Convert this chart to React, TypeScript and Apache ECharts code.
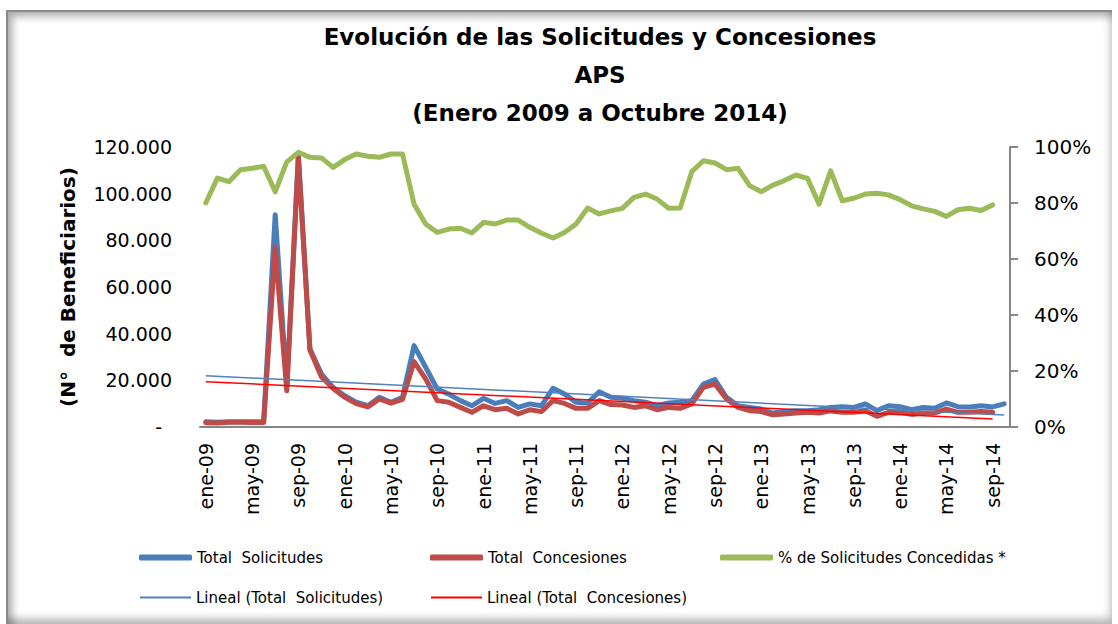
import React, { useEffect, useRef } from "react";
import * as echarts from "echarts";

const monthAbbr = ["ene", "feb", "mar", "abr", "may", "jun", "jul", "ago", "sep", "oct", "nov", "dic"];
const yearSuffixes = ["09", "10", "11", "12", "13", "14"];
const monthsInLastYear = 10; // ene..oct 2014

const categories: string[] = [];
yearSuffixes.forEach((y, yi) => {
  const n = yi === yearSuffixes.length - 1 ? monthsInLastYear : 12;
  for (let m = 0; m < n; m++) categories.push(`${monthAbbr[m]}-${y}`);
});

const totalSolicitudes = [
  2200, 2000, 2300, 2300, 2200, 2200, 91000, 17500, 116500, 33500, 22700, 17000,
  13400, 10600, 9100, 12700, 10600, 12700, 34900, 25600, 16300, 14100, 11300, 9100,
  12300, 10100, 11300, 8400, 9900, 9100, 16600, 14100, 10600, 10300, 15100, 12700,
  12300, 11300, 10600, 9100, 10300, 10600, 11300, 18400, 20300, 12700, 9100, 8400,
  7700, 6000, 6600, 7000, 7000, 7400, 8400, 8700, 8400, 9900, 7000, 9100,
  8700, 7400, 8400, 8000, 10300, 8700, 8600, 9100, 8600, 9900,
];

const totalConcesiones = [
  1800, 1700, 2000, 2000, 1900, 1900, 77000, 15500, 115500, 33000, 21400, 16500,
  12800, 10000, 8600, 12000, 10200, 11800, 28000, 20600, 11300, 10600, 8400, 6300,
  9100, 7400, 8000, 5600, 7400, 6600, 11300, 10100, 8000, 8000, 11300, 9600,
  9400, 8400, 9100, 7400, 8400, 8000, 9900, 17000, 18400, 12000, 8400, 7000,
  6600, 5200, 5600, 6000, 6300, 6000, 6900, 6300, 6300, 7000, 4600, 6300,
  6300, 5400, 6000, 6000, 7700, 6300, 6300, 6600, 6300, null,
];

const pctConcedidas = [
  0.8, 0.889, 0.876, 0.919, 0.924, 0.931, 0.84, 0.947, 0.981, 0.963, 0.961, 0.927,
  0.955, 0.975, 0.967, 0.963, 0.975, 0.975, 0.796, 0.725, 0.695, 0.707, 0.71, 0.693,
  0.731, 0.725, 0.739, 0.739, 0.713, 0.693, 0.675, 0.695, 0.725, 0.782, 0.761, 0.772,
  0.781, 0.82, 0.832, 0.814, 0.781, 0.782, 0.912, 0.951, 0.943, 0.919, 0.924, 0.862,
  0.84, 0.864, 0.88, 0.9, 0.888, 0.796, 0.915, 0.808, 0.817, 0.832, 0.835, 0.829,
  0.812, 0.79, 0.779, 0.77, 0.752, 0.776, 0.781, 0.773, 0.793, null,
];

// Trend lines (Excel "Lineal"), endpoints: [categoryIndex, value]
const trendSolicitudes: [number, number][] = [[0, 22000], [69, 5100]];
const trendConcesiones: [number, number][] = [[0, 19400], [68, 3400]];

const leftTicks = { min: 0, max: 120000, interval: 20000 };
const rightTicks = { min: 0, max: 1, interval: 0.2 };

const FONT = "DejaVu Sans";

function fmtThousands(v: number): string {
  if (v === 0) return "{d|-}";
  return String(v).replace(/\B(?=(\d{3})+(?!\d))/g, ".");
}

export default function App() {
  const ref = useRef<HTMLDivElement>(null);
  useEffect(() => {
    if (!ref.current) return;
    const chart = echarts.init(ref.current, undefined, { renderer: "svg" });
    const axisGray = "#868686";
    const legendText = { fontFamily: FONT, fontSize: 15, color: "#000" };
    const thick = { icon: "roundRect", itemWidth: 53, itemHeight: 6, padding: 0, textStyle: legendText };
    const thin = { icon: "rect", itemWidth: 51, itemHeight: 2, padding: 0, textStyle: legendText };
    chart.setOption({
      animation: false,
      title: {
        text: "Evolución de las Solicitudes y Concesiones\nAPS\n(Enero 2009 a Octubre 2014)",
        left: 595,
        top: 13,
        textAlign: "center",
        textStyle: { fontFamily: FONT, fontSize: 23, fontWeight: "bold", color: "#000", lineHeight: 38 },
      },
      grid: { left: 200, right: 108, top: 147, bottom: 197 },
      legend: [
        { data: ["Total  Solicitudes"], left: 139, top: 550, ...thick },
        { data: ["Total  Concesiones"], left: 430, top: 550, ...thick },
        { data: ["% de Solicitudes Concedidas *"], left: 720, top: 550, ...thick },
        { data: ["Lineal (Total  Solicitudes)"], left: 140, top: 590, ...thin },
        { data: ["Lineal (Total  Concesiones)"], left: 431, top: 590, ...thin },
      ],
      xAxis: {
        type: "category",
        data: categories,
        boundaryGap: true,
        axisLine: { lineStyle: { color: axisGray, width: 2 } },
        axisTick: { show: false },
        axisLabel: {
          interval: 3,
          rotate: 90,
          margin: 16,
          fontFamily: FONT,
          fontSize: 19,
          color: "#000",
        },
        splitLine: { show: false },
      },
      yAxis: [
        {
          type: "value",
          ...leftTicks,
          name: "(N°  de Beneficiarios)",
          nameLocation: "middle",
          nameGap: 122,
          nameRotate: 90,
          nameTextStyle: { fontFamily: FONT, fontSize: 20, fontWeight: "bold", color: "#000" },
          axisLine: { show: false },
          axisTick: { show: false },
          splitLine: { show: false },
          axisLabel: {
            margin: 28,
            fontFamily: FONT,
            fontSize: 19,
            color: "#000",
            formatter: (v: number) => fmtThousands(v),
            rich: { d: { fontFamily: FONT, fontSize: 19, color: "#000", padding: [0, 10, 0, 0] } },
          },
        },
        {
          type: "value",
          ...rightTicks,
          position: "right",
          axisLine: { show: true, lineStyle: { color: axisGray, width: 2 } },
          axisTick: { show: true, length: 8, lineStyle: { color: axisGray, width: 2 } },
          splitLine: { show: false },
          axisLabel: {
            margin: 24,
            fontFamily: FONT,
            fontSize: 20,
            color: "#000",
            formatter: (v: number) => `${Math.round(v * 100)}%`,
          },
        },
      ],
      series: [
        {
          name: "Total  Solicitudes",
          type: "line",
          data: totalSolicitudes,
          yAxisIndex: 0,
          symbol: "none",
          lineStyle: { color: "#4A7EBB", width: 5, cap: "round", join: "round" },
          itemStyle: { color: "#4A7EBB" },
          z: 2,
        },
        {
          name: "Total  Concesiones",
          type: "line",
          data: totalConcesiones,
          yAxisIndex: 0,
          symbol: "none",
          lineStyle: { color: "#BE4B48", width: 5, cap: "round", join: "round" },
          itemStyle: { color: "#BE4B48" },
          z: 3,
        },
        {
          name: "% de Solicitudes Concedidas *",
          type: "line",
          data: pctConcedidas,
          yAxisIndex: 1,
          symbol: "none",
          lineStyle: { color: "#9BBB59", width: 5, cap: "round", join: "round" },
          itemStyle: { color: "#9BBB59" },
          z: 3,
        },
        {
          name: "Lineal (Total  Solicitudes)",
          type: "line",
          data: trendSolicitudes,
          yAxisIndex: 0,
          symbol: "none",
          lineStyle: { color: "#4F81BD", width: 1.5 },
          itemStyle: { color: "#4F81BD" },
          z: 4,
        },
        {
          name: "Lineal (Total  Concesiones)",
          type: "line",
          data: trendConcesiones,
          yAxisIndex: 0,
          symbol: "none",
          lineStyle: { color: "#FF0000", width: 1.5 },
          itemStyle: { color: "#FF0000" },
          z: 4,
        },
      ],
    });
    return () => chart.dispose();
  }, []);

  return (
    <div style={{ position: "fixed", left: 0, top: 0, width: 1118, height: 624, background: "#fff", overflow: "hidden" }}>
      <div
        style={{
          position: "absolute",
          left: 6,
          top: 10,
          width: 1106,
          height: 614,
          borderLeft: "2px solid #8a8a8a",
          borderTop: "2px solid #8a8a8a",
          boxSizing: "border-box",
          boxShadow:
            "inset 7px 7px 9px -3px rgba(0,0,0,0.35), inset -4px -8px 9px -3px rgba(0,0,0,0.3)",
        }}
      />
      <div ref={ref} style={{ position: "absolute", left: 0, top: 0, width: 1118, height: 624 }} />
    </div>
  );
}
